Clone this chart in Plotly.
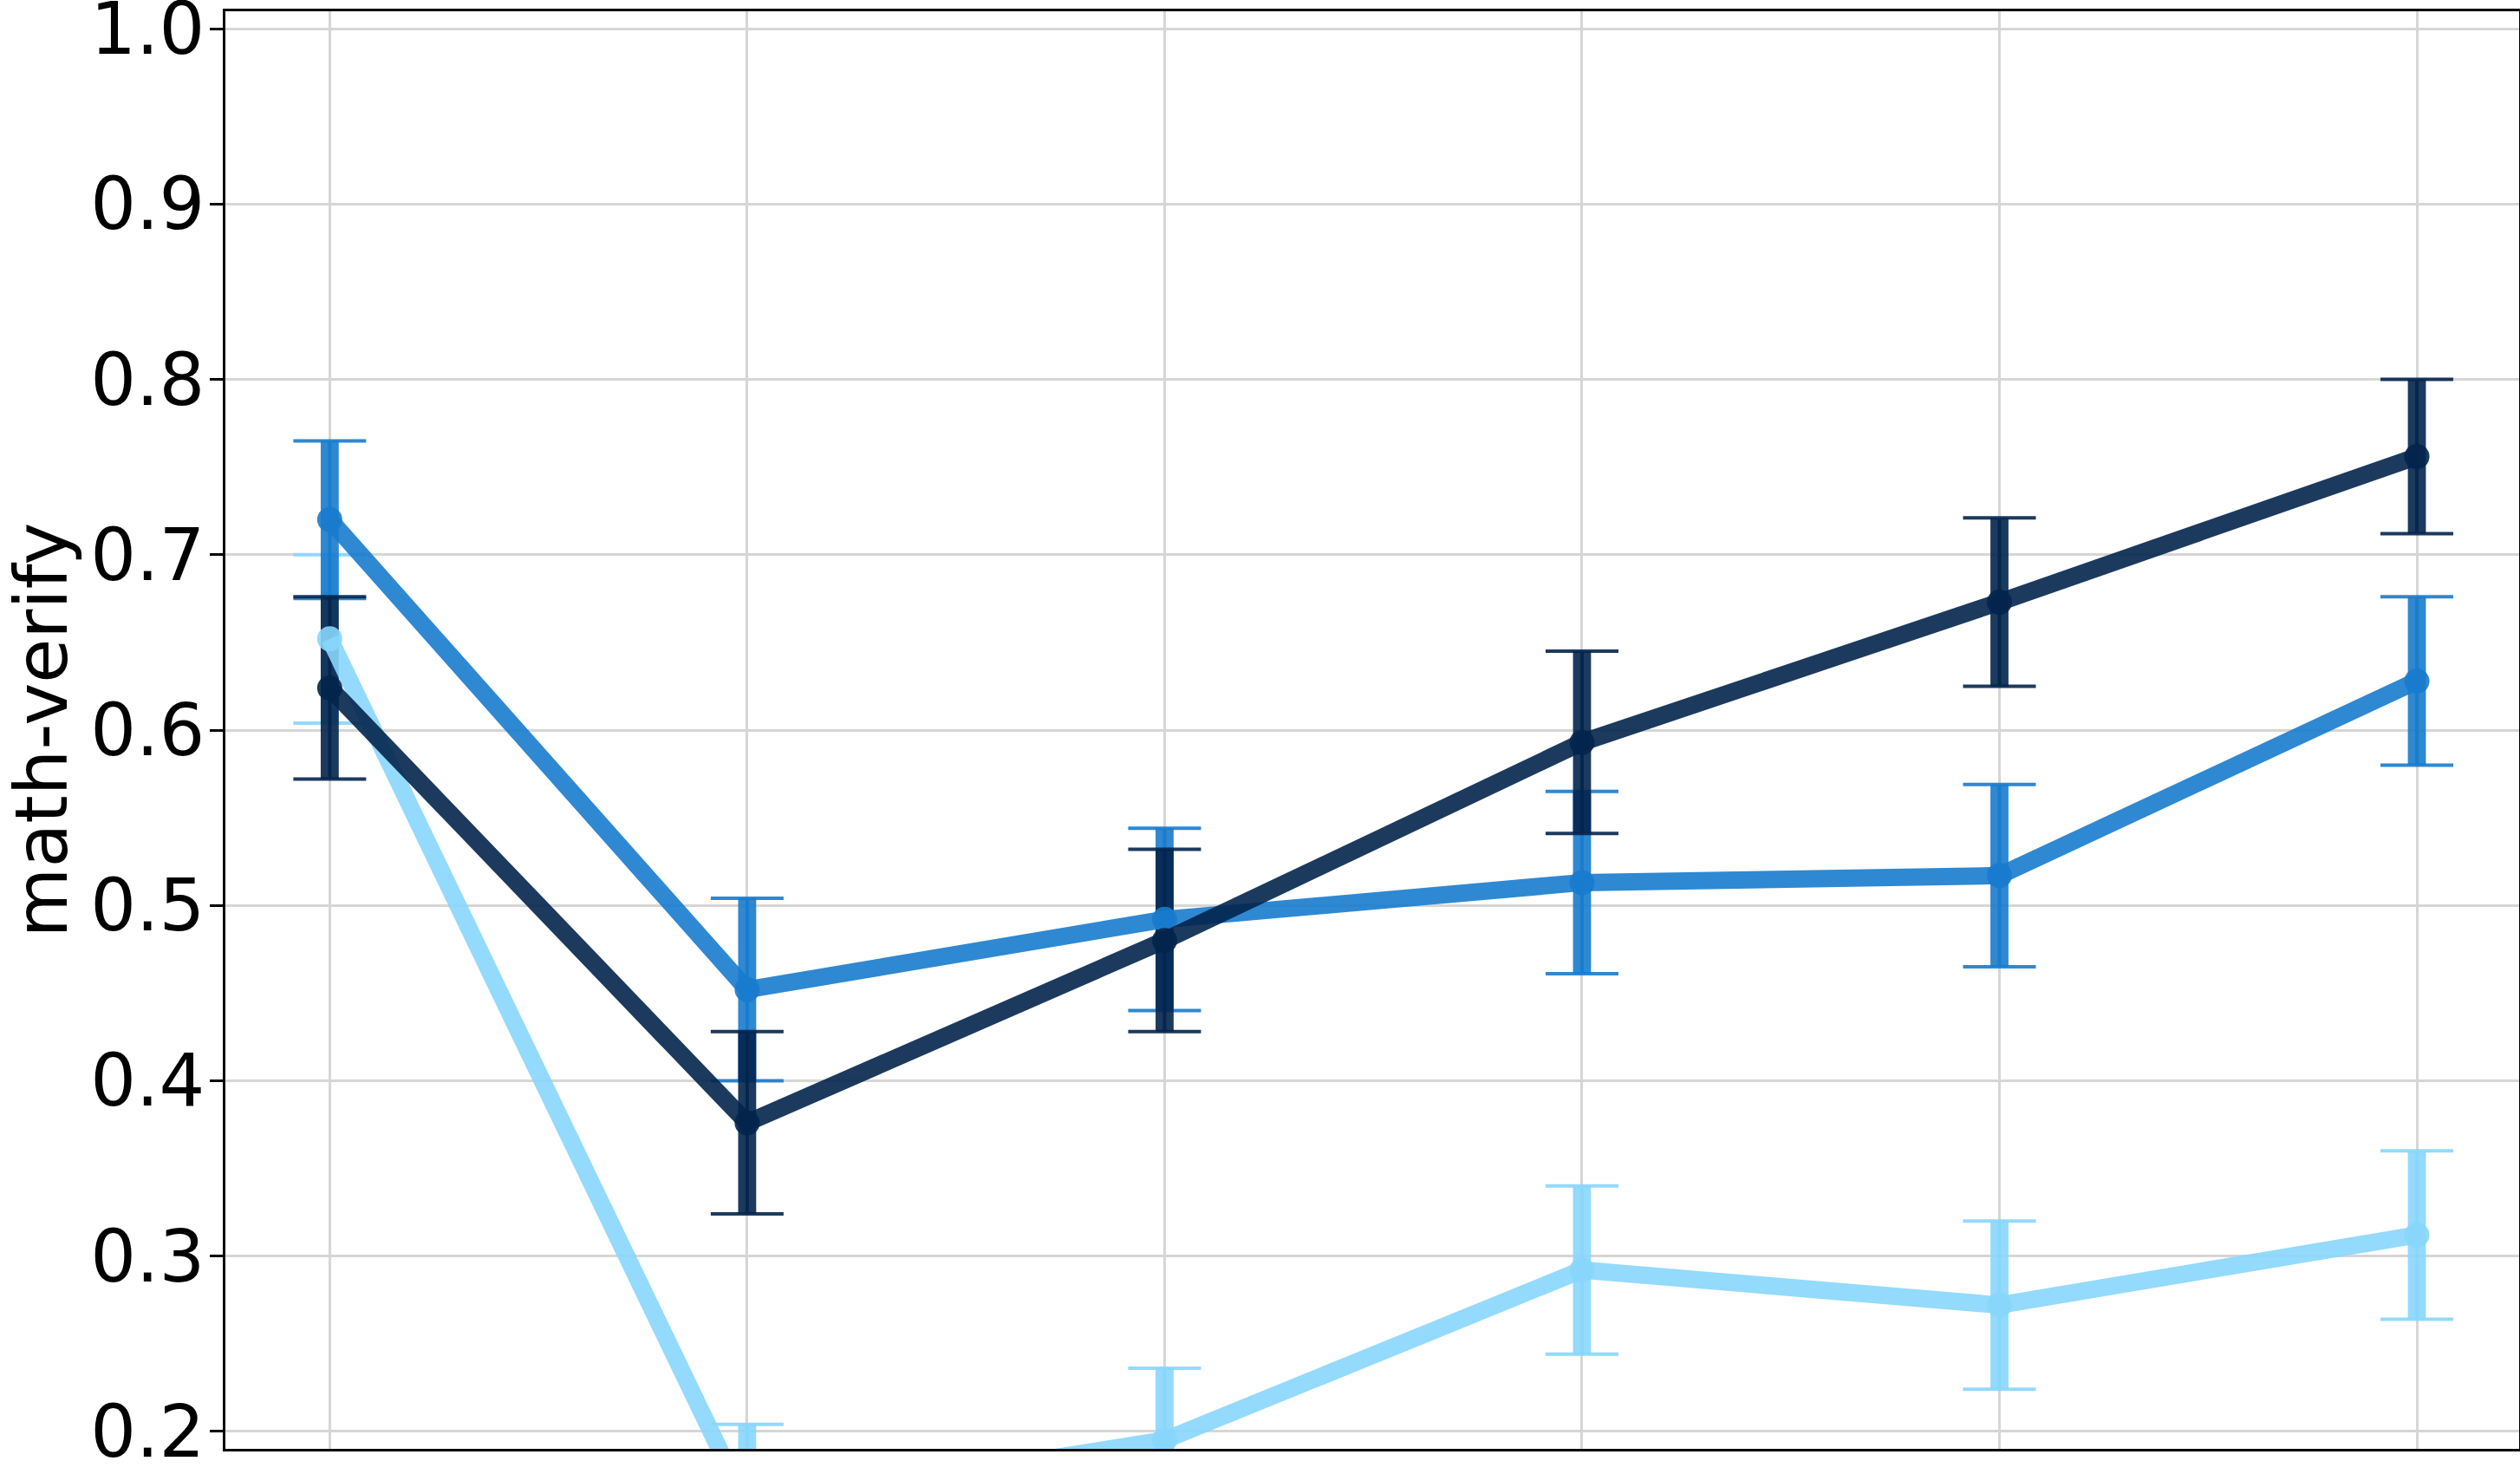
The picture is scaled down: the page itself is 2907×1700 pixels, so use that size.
import plotly.graph_objects as go

# ---- data ----
x_steps = [0, 1, 2, 3, 4, 5]

dark_vals = [0.624, 0.376, 0.480, 0.593, 0.673, 0.756]
dark_errs = [0.052, 0.052, 0.052, 0.052, 0.048, 0.044]

mid_vals = [0.720, 0.452, 0.492, 0.513, 0.517, 0.628]
mid_errs = [0.045, 0.052, 0.052, 0.052, 0.052, 0.048]

light_vals = [0.652, 0.157, 0.195, 0.292, 0.272, 0.312]
light_errs = [0.048, 0.047, 0.041, 0.048, 0.048, 0.048]

y_ticks = [0.2, 0.3, 0.4, 0.5, 0.6, 0.7, 0.8, 0.9, 1.0]
y_title = "math-verify"

# ---- styling ----
ALPHA = 0.9
series = [
    ("light", light_vals, light_errs, (136, 214, 252)),
    ("mid", mid_vals, mid_errs, (24, 123, 205)),
    ("dark", dark_vals, dark_errs, (3, 37, 76)),
]

def rgba(c, a=ALPHA):
    return f"rgba({c[0]},{c[1]},{c[2]},{a})"

LINE_W = 20
BAR_W = 20.8
CAP_T = 4
CAP_HALF = 42
MARKER = 29

fig = go.Figure()

# error bars for all series first (below all lines)
for name, vals, errs, c in series:
    fig.add_trace(go.Scatter(
        x=x_steps, y=vals, mode="markers", showlegend=False, hoverinfo="skip",
        marker=dict(size=1, opacity=0),
        error_y=dict(type="data", array=errs, visible=True, width=0,
                     thickness=BAR_W, color=rgba(c)),
    ))
    fig.add_trace(go.Scatter(
        x=x_steps, y=vals, mode="markers", showlegend=False, hoverinfo="skip",
        marker=dict(size=1, opacity=0),
        error_y=dict(type="data", array=errs, visible=True, width=CAP_HALF,
                     thickness=CAP_T, color=rgba(c)),
    ))

# lines + markers
for name, vals, errs, c in series:
    fig.add_trace(go.Scatter(
        x=x_steps, y=vals, mode="lines+markers", name=name, showlegend=False,
        line=dict(color=rgba(c), width=LINE_W),
        marker=dict(color=rgba(c), size=MARKER, line=dict(width=0)),
    ))

FONT = "DejaVu Sans"
fig.update_layout(
    width=2907, height=1700,
    margin=dict(l=260, r=1, t=13, b=29, autoexpand=False),
    paper_bgcolor="white", plot_bgcolor="white",
    font=dict(family=FONT, size=83, color="black"),
    showlegend=False,
)
fig.update_xaxes(
    range=[-0.25, 5.245], tickvals=x_steps, showticklabels=False, ticks="",
    showgrid=True, gridcolor="rgb(214,214,214)", gridwidth=3.2,
    showline=True, linecolor="black", linewidth=3.3, mirror=True,
    zeroline=False, automargin=False,
)
fig.update_yaxes(
    range=[0.19, 1.01], tickvals=y_ticks, tickformat=".1f",
    ticks="outside", ticklen=15, tickwidth=3.3, tickcolor="black",
    tickfont=dict(family=FONT, size=83, color="black"),
    ticklabelstandoff=-11, ticklabeloverflow="allow",
    showgrid=True, gridcolor="rgb(214,214,214)", gridwidth=3.2,
    showline=True, linecolor="black", linewidth=3.3, mirror=True,
    zeroline=False, automargin=False,
    title=dict(text=y_title, font=dict(family=FONT, size=83, color="black"), standoff=45),
)

fig.write_html(
    "out.html",
    config={"displayModeBar": False},
    post_script="document.body.style.margin='0';document.body.style.overflow='hidden';",
)
